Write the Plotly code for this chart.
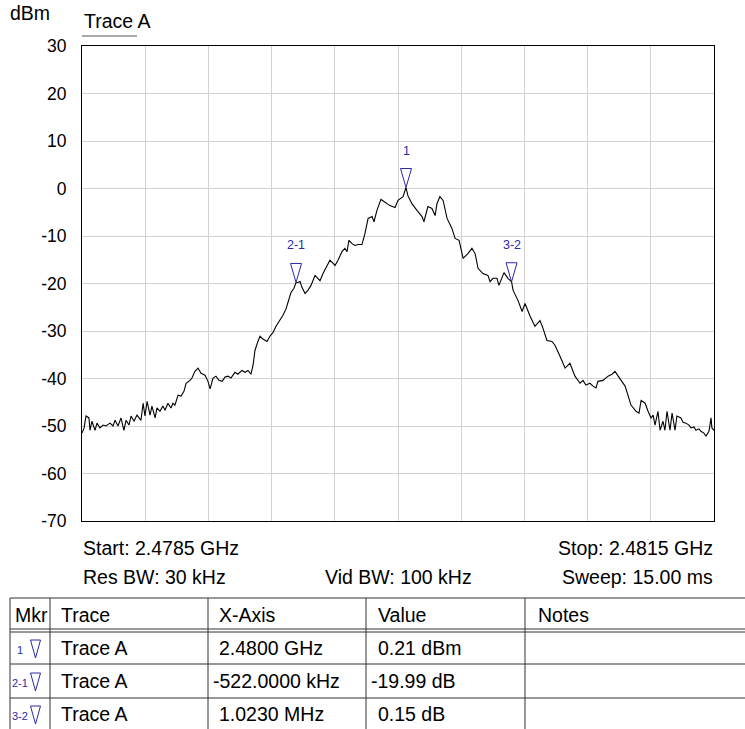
import plotly.graph_objects as go

# ---------------- data ----------------
start_ghz = 2.4785
stop_ghz = 2.4815

freq_offset_khz = [
    0, 10, 19, 33, 38, 47, 62, 71, 85, 100, 114, 133, 147, 157, 171, 185, 199, 209, 223, 233,
    247, 261, 280, 290, 299, 309, 323, 332, 347, 356, 370, 384, 394, 408, 422, 432, 441, 456, 470, 484,
    494, 513, 522, 536, 551, 565, 584, 598, 608, 622, 636, 650, 665, 679, 693, 707, 726, 740, 759, 774,
    788, 802, 812, 821, 835, 845, 859, 878, 892, 907, 921, 940, 954, 968, 978, 992, 1006, 1016, 1025, 1035,
    1044, 1059, 1073, 1087, 1106, 1120, 1130, 1144, 1158, 1177, 1191, 1201, 1215, 1234, 1248, 1258, 1267, 1282, 1296, 1310,
    1329, 1343, 1358, 1377, 1386, 1400, 1419, 1438, 1462, 1486, 1500, 1524, 1538, 1547, 1566, 1590, 1614, 1623, 1642, 1661,
    1676, 1685, 1699, 1714, 1733, 1756, 1771, 1790, 1809, 1832, 1851, 1866, 1880, 1903, 1927, 1937, 1951, 1970, 1979, 2003,
    2022, 2039, 2046, 2070, 2089, 2103, 2127, 2150, 2174, 2188, 2207, 2231, 2245, 2269, 2293, 2316, 2340, 2364, 2378, 2392,
    2411, 2426, 2440, 2449, 2473, 2497, 2516, 2530, 2544, 2559, 2578, 2592, 2606, 2630, 2644, 2654, 2673, 2687, 2701, 2711,
    2720, 2734, 2744, 2758, 2767, 2777, 2791, 2801, 2815, 2824, 2843, 2853, 2867, 2881, 2891, 2905, 2914, 2929, 2938, 2952,
    2962, 2976, 2986, 2990, 3000,
]
level_dbm = [
    -51.5, -50.4, -47.9, -48.3, -50.9, -49.0, -50.9, -49.4, -50.4, -49.8, -50.0, -49.4, -50.0, -48.8, -50.0, -48.3, -50.9, -48.8, -49.8, -47.9,
    -49.0, -47.7, -48.8, -45.2, -47.9, -44.8, -47.7, -45.8, -48.3, -46.2, -46.9, -45.8, -46.7, -45.2, -46.2, -45.2, -45.6, -43.5, -43.7, -42.7,
    -41.0, -40.4, -39.9, -38.5, -37.8, -38.9, -39.3, -40.6, -42.2, -39.9, -39.5, -40.4, -40.6, -39.7, -39.5, -39.9, -38.7, -39.1, -38.3, -38.7,
    -38.3, -39.1, -37.2, -34.1, -32.2, -31.1, -31.7, -32.2, -31.1, -30.3, -29.0, -27.8, -26.7, -25.4, -23.8, -21.9, -21.0, -19.78, -19.8, -19.6,
    -20.8, -22.1, -21.4, -20.4, -18.3, -19.0, -19.4, -17.9, -16.8, -15.1, -15.7, -16.2, -15.1, -13.3, -12.6, -13.3, -10.9, -11.6, -12.0, -11.8,
    -11.8, -9.5, -6.3, -5.9, -7.0, -4.6, -2.3, -2.8, -3.6, -4.0, -2.5, -1.7, 0.21, -1.5, -3.2, -4.6, -5.9, -7.0, -3.8, -4.2,
    -5.7, -3.2, -1.7, -2.5, -6.3, -8.4, -10.5, -10.9, -14.7, -13.7, -12.6, -13.7, -16.8, -17.9, -18.3, -19.6, -18.9, -18.9, -20.4, -17.7,
    -18.9, -19.63, -21.4, -23.6, -25.9, -24.2, -26.9, -29.0, -27.8, -29.4, -32.0, -32.2, -33.0, -35.3, -37.8, -36.8, -39.5, -41.0, -40.4, -41.4,
    -41.0, -41.6, -42.0, -40.6, -40.4, -39.5, -39.1, -38.5, -39.3, -40.4, -41.6, -43.5, -45.6, -46.9, -47.3, -44.6, -45.2, -46.9, -48.3, -47.7,
    -49.8, -46.9, -50.9, -49.0, -50.9, -46.9, -50.9, -47.3, -50.9, -47.9, -48.3, -49.2, -49.4, -49.8, -50.4, -50.2, -50.9, -50.6, -51.1, -51.5,
    -52.1, -51.1, -48.3, -50.4, -50.9,
]

marker_labels = ["1", "2-1", "3-2"]
marker_freq_ghz = [2.480038, 2.479516, 2.480539]
marker_level_dbm = [0.21, -19.78, -19.63]

y_tick_values = [30, 20, 10, 0, -10, -20, -30, -40, -50, -60, -70]
y_tick_text = ["30", "20", "10", "0", "-10", "-20", "-30", "-40", "-50", "-60", "-70"]

table_header = ["Mkr", "Trace", "X-Axis", "Value", "Notes"]
table_trace = ["Trace A", "Trace A", "Trace A"]
table_xaxis = ["2.4800 GHz", "-522.0000 kHz", "1.0230 MHz"]
table_value = ["0.21 dBm", "-19.99 dB", "0.15 dB"]

info_start = "Start: 2.4785 GHz"
info_stop = "Stop: 2.4815 GHz"
info_res = "Res BW: 30 kHz"
info_vid = "Vid BW: 100 kHz"
info_sweep = "Sweep: 15.00 ms"

# ---------------- layout helpers ----------------
W, H = 745, 729
L, R, T, B = 82, 714, 46, 521
FONT = "Liberation Sans, Arial, sans-serif"
BLUE = "#2a2aa8"
GRID = "#d2d2d2"
TXT = 19.5


def px(x):
    return (x - L) / (R - L)


def py(y):
    return (B - y) / (B - T)


freqs = [start_ghz + k * 1e-6 for k in freq_offset_khz]

fig = go.Figure()
fig.add_trace(go.Scatter(x=freqs, y=level_dbm, mode="lines",
                         line=dict(color="black", width=1.1), hoverinfo="skip",
                         showlegend=False))

shapes = []
annotations = []

# markers on trace
for lab, f, v in zip(marker_labels, marker_freq_ghz, marker_level_dbm):
    shapes.append(dict(type="path", xref="x", yref="y", xsizemode="pixel", ysizemode="pixel",
                       xanchor=f, yanchor=v, path="M -5.5,19 L 5.5,19 L 0,0 Z",
                       line=dict(color=BLUE, width=1), fillcolor="rgba(0,0,0,0)"))
    annotations.append(dict(x=f, y=v, xref="x", yref="y", text=lab, showarrow=False,
                            yanchor="bottom", yshift=28, font=dict(family=FONT, size=12.5, color=BLUE)))

# top texts
annotations.append(dict(x=px(8), y=py(13), xref="paper", yref="paper", text="dBm", showarrow=False,
                        xanchor="left", yanchor="middle", font=dict(family=FONT, size=TXT, color="black")))
annotations.append(dict(x=px(82), y=py(21), xref="paper", yref="paper", text="Trace A", showarrow=False,
                        xanchor="left", yanchor="middle", font=dict(family=FONT, size=TXT, color="black")))
shapes.append(dict(type="line", xref="paper", yref="paper", x0=px(82), x1=px(137), y0=py(36), y1=py(36),
                   line=dict(color="#555555", width=1)))

# info texts below
for txt, x, y, anc in [(info_start, L - 1, 548, "left"), (info_stop, R + 1, 548, "right"),
                       (info_res, L - 1, 577, "left"), (info_vid, (L + R) / 2, 577, "center"),
                       (info_sweep, R + 1, 577, "right")]:
    annotations.append(dict(x=px(x), y=py(y), xref="paper", yref="paper", text=txt, showarrow=False,
                            xanchor=anc, yanchor="middle", font=dict(family=FONT, size=TXT, color="black")))

# table
TL, TR = 10, 745
row_lines = [598, 629, 632, 664, 698, 731]
for yl in row_lines:
    shapes.append(dict(type="line", xref="paper", yref="paper", x0=px(TL), x1=px(TR), y0=py(yl), y1=py(yl),
                       line=dict(color="#333333", width=1)))
for xl in [TL, 50, 208, 366, 525]:
    shapes.append(dict(type="line", xref="paper", yref="paper", x0=px(xl), x1=px(xl), y0=py(598), y1=py(731),
                       line=dict(color="#333333", width=1)))

header_x = [13, 59, 217, 376, 536]
for txt, x in zip(table_header, header_x):
    annotations.append(dict(x=px(x), y=py(615), xref="paper", yref="paper", text=txt, showarrow=False,
                            xanchor="left", yanchor="middle", font=dict(family=FONT, size=TXT, color="black")))

row_y = [648, 681, 714]
for i, yc in enumerate(row_y):
    lab = marker_labels[i]
    annotations.append(dict(x=px(20), y=py(yc + 2), xref="paper", yref="paper", text=lab, showarrow=False,
                            xanchor="center", yanchor="middle", font=dict(family=FONT, size=11, color=BLUE)))
    shapes.append(dict(type="path", xref="paper", yref="paper", xsizemode="pixel", ysizemode="pixel",
                       xanchor=px(35.5), yanchor=py(yc + 10), path="M -5,18 L 5,18 L 0,0 Z",
                       line=dict(color=BLUE, width=1), fillcolor="rgba(0,0,0,0)"))
    annotations.append(dict(x=px(59), y=py(yc), xref="paper", yref="paper", text=table_trace[i], showarrow=False,
                            xanchor="left", yanchor="middle", font=dict(family=FONT, size=TXT, color="black")))
    xv = table_xaxis[i]
    annotations.append(dict(x=px(211 if xv.startswith("-") else 217), y=py(yc), xref="paper", yref="paper",
                            text=xv, showarrow=False, xanchor="left", yanchor="middle",
                            font=dict(family=FONT, size=TXT, color="black")))
    vv = table_value[i]
    annotations.append(dict(x=px(369 if vv.startswith("-") else 376), y=py(yc), xref="paper", yref="paper",
                            text=vv, showarrow=False, xanchor="left", yanchor="middle",
                            font=dict(family=FONT, size=TXT, color="black")))

fig.update_layout(
    width=W, height=H,
    margin=dict(l=L, r=W - R, t=T, b=H - B, pad=0),
    paper_bgcolor="white", plot_bgcolor="white",
    showlegend=False,
    shapes=shapes, annotations=annotations,
    xaxis=dict(range=[start_ghz, stop_ghz], dtick=0.0003, tick0=start_ghz, showticklabels=False,
               showgrid=True, gridcolor=GRID, gridwidth=1, zeroline=False,
               showline=True, mirror=True, linecolor="black", linewidth=1, ticks=""),
    yaxis=dict(range=[-70, 30], tickvals=y_tick_values, ticktext=y_tick_text, showgrid=True,
               gridcolor=GRID, gridwidth=1,
               zeroline=False, showline=True, mirror=True, linecolor="black", linewidth=1, ticks="",
               ticklabelstandoff=11, tickfont=dict(family=FONT, size=17.5, color="black")),
)

fig.write_html("out.html", config={"displayModeBar": False},
               post_script="document.body.style.margin='0';document.body.style.padding='0';")
